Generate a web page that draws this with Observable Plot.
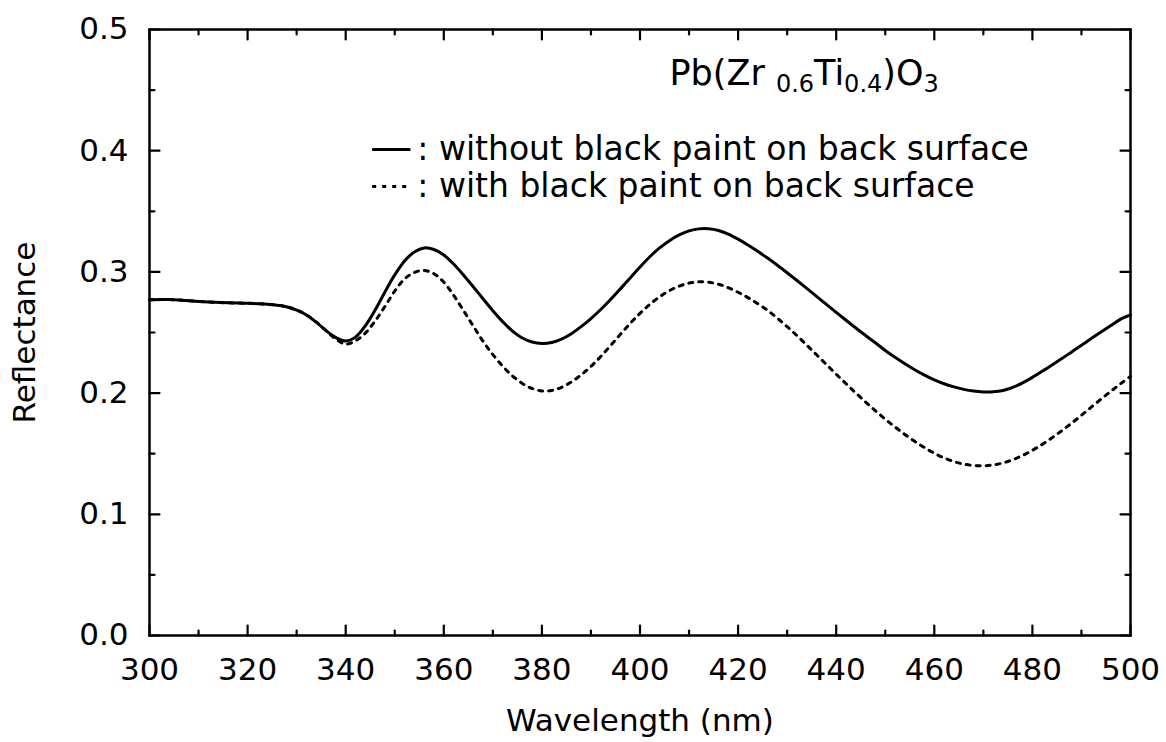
<!DOCTYPE html>
<html>
<head>
<meta charset="utf-8">
<script src="https://cdn.jsdelivr.net/npm/d3@7"></script>
<script src="https://cdn.jsdelivr.net/npm/@observablehq/plot@0.6"></script>
<style>
  html, body { margin: 0; padding: 0; background: white; }
</style>
</head>
<body>
<div id="chart"></div>
<script>
// ---- data ----
const wavelengthSolid = [300,304,308,312,316,320,324,327,330,332,334,336,338,340,342,344,346,348,350,352,354,356,358,360,362,364,366,368,370,372,374,376,378,380,382,384,386,388,390,392,394,396,398,400,402,404,406,408,410,412,414,416,418,420,422,424,426,428,430,432,434,436,438,440,442,444,446,448,450,452,454,456,458,460,462,464,466,468,470,472,474,476,478,480,482,484,486,488,490,492,494,496,498,500];
const reflectanceSolid = [0.277,0.2772,0.2762,0.2752,0.2745,0.2741,0.2733,0.272,0.2685,0.2645,0.2585,0.2515,0.2458,0.2430,0.2462,0.2555,0.2685,0.2835,0.2975,0.309,0.3165,0.3198,0.3185,0.314,0.3065,0.2975,0.2878,0.2778,0.268,0.259,0.2512,0.2455,0.2422,0.241,0.2418,0.2445,0.249,0.2548,0.2615,0.269,0.2772,0.286,0.295,0.304,0.3125,0.3198,0.3258,0.3305,0.3338,0.3355,0.3356,0.3342,0.3312,0.327,0.3222,0.317,0.3114,0.3055,0.2993,0.2929,0.2864,0.2798,0.2732,0.2666,0.2601,0.2537,0.2475,0.2415,0.2352,0.2295,0.2242,0.2193,0.2148,0.2109,0.2077,0.2051,0.2031,0.2017,0.201,0.2011,0.2022,0.2048,0.2085,0.213,0.218,0.2232,0.2285,0.234,0.2395,0.245,0.2505,0.2558,0.261,0.2645];

const wavelengthDotted = [300,304,308,312,316,320,324,327,330,332,334,336,338,340,342,344,346,348,350,352,354,356,358,360,362,364,366,368,370,372,374,376,378,380,382,384,386,388,390,392,394,396,398,400,402,404,406,408,410,412,414,416,418,420,422,424,426,428,430,432,434,436,438,440,442,444,446,448,450,452,454,456,458,460,462,464,466,468,470,472,474,476,478,480,482,484,486,488,490,492,494,496,498,500];
const reflectanceDotted = [0.277,0.2772,0.2762,0.2752,0.2745,0.2741,0.2733,0.272,0.2685,0.2645,0.2585,0.2515,0.2445,0.2405,0.2432,0.2495,0.2595,0.2715,0.2842,0.2942,0.2995,0.3012,0.2985,0.2915,0.2808,0.2682,0.2553,0.2428,0.2318,0.2222,0.2142,0.208,0.2038,0.2018,0.2022,0.2048,0.2092,0.215,0.222,0.2302,0.2392,0.2485,0.2575,0.2658,0.2732,0.2795,0.2845,0.2883,0.2908,0.2918,0.2915,0.2898,0.287,0.2832,0.2788,0.2738,0.2683,0.2618,0.2548,0.2474,0.2396,0.2316,0.2236,0.2156,0.2078,0.2001,0.1926,0.1854,0.1785,0.172,0.1659,0.1602,0.155,0.1504,0.1465,0.1435,0.1414,0.1403,0.1400,0.1407,0.1424,0.145,0.1486,0.1528,0.1577,0.1631,0.169,0.1752,0.1817,0.1884,0.195,0.2015,0.2078,0.2138];

const xTickLabels = [300,320,340,360,380,400,420,440,460,480,500];
const xMinorTicks = [310,330,350,370,390,410,430,450,470,490];
const yTickLabels = [0.0,0.1,0.2,0.3,0.4,0.5];
const yMinorTicks = [0.05,0.15,0.25,0.35,0.45];

const xLabel = "Wavelength (nm)";
const yLabel = "Reflectance";
const legendTitle = "Pb(Zr 0.6Ti0.4)O3";
const legendLabels = [": without black paint on back surface", ": with black paint on back surface"];
// legend anchor positions in data units
const legendTitleAt = {x: 406.0, y: 0.4546};
const legendRowY = [0.401, 0.3705];
const legendSwatchX = [345.5, 353.3];
const legendTextX = 354.6;

// ---- build ----
const solid = wavelengthSolid.map((x, i) => ({x, y: reflectanceSolid[i]}));
const dotted = wavelengthDotted.map((x, i) => ({x, y: reflectanceDotted[i]}));

const tickShape = {draw(context, l) { context.moveTo(0, 0); context.lineTo(0, -l); }};
const tickOpts = {anchor: "start", shape: tickShape, stroke: "black", strokeWidth: 2.2};
const DOT = "4,6";

const chart = Plot.plot({
  width: 1166,
  height: 742,
  marginLeft: 149,
  marginRight: 36,
  marginTop: 29,
  marginBottom: 107,
  x: {domain: [300, 500]},
  y: {domain: [0, 0.5]},
  style: {fontFamily: "'DejaVu Sans', sans-serif", fontSize: "31px", background: "white", color: "black"},
  marks: [
    Plot.axisX({ticks: xTickLabels, tickSize: 0, tickPadding: 22, label: null, fontSize: 31, tickFormat: d => String(d)}),
    Plot.axisY({ticks: yTickLabels, tickSize: 0, tickPadding: 21, label: null, fontSize: 31, tickFormat: d => d.toFixed(1)}),
    // inward ticks on four sides
    Plot.vector(xTickLabels, {...tickOpts, x: d => d, y: () => 0, rotate: 0, length: 10}),
    Plot.vector(xMinorTicks, {...tickOpts, x: d => d, y: () => 0, rotate: 0, length: 5}),
    Plot.vector(xTickLabels, {...tickOpts, x: d => d, y: () => 0.5, rotate: 180, length: 10}),
    Plot.vector(xMinorTicks, {...tickOpts, x: d => d, y: () => 0.5, rotate: 180, length: 5}),
    Plot.vector(yTickLabels, {...tickOpts, y: d => d, x: () => 300, rotate: 90, length: 10}),
    Plot.vector(yMinorTicks, {...tickOpts, y: d => d, x: () => 300, rotate: 90, length: 5}),
    Plot.vector(yTickLabels, {...tickOpts, y: d => d, x: () => 500, rotate: -90, length: 10}),
    Plot.vector(yMinorTicks, {...tickOpts, y: d => d, x: () => 500, rotate: -90, length: 5}),
    Plot.frame({stroke: "black", strokeWidth: 2.5}),
    // curves
    Plot.line(solid, {x: "x", y: "y", stroke: "black", strokeWidth: 3, curve: "catmull-rom"}),
    Plot.line(dotted, {x: "x", y: "y", stroke: "black", strokeWidth: 3, strokeDasharray: DOT, curve: "catmull-rom"}),
    // axis titles
    Plot.text([xLabel], {text: d => d, frameAnchor: "bottom", textAnchor: "middle", lineAnchor: "middle", dy: 86, fontSize: 31}),
    Plot.text([yLabel], {text: d => d, frameAnchor: "left", textAnchor: "middle", lineAnchor: "middle", dx: -124, rotate: -90, fontSize: 31}),
    // legend
    Plot.text([legendTitle], {text: d => d, x: () => legendTitleAt.x, y: () => legendTitleAt.y, textAnchor: "start", lineAnchor: "bottom", fontSize: 35}),
    Plot.ruleY([legendRowY[0]], {y: d => d, x1: () => legendSwatchX[0], x2: () => legendSwatchX[1], stroke: "black", strokeWidth: 3}),
    Plot.ruleY([legendRowY[1]], {y: d => d, x1: () => legendSwatchX[0], x2: () => legendSwatchX[1], stroke: "black", strokeWidth: 3, strokeDasharray: DOT}),
    Plot.text(legendLabels, {text: d => d, x: () => legendTextX, y: (d, i) => legendRowY[i], textAnchor: "start", lineAnchor: "middle", fontSize: 33})
  ]
});

document.getElementById("chart").appendChild(chart);

// chemical formula subscripts
for (const t of chart.querySelectorAll("text")) {
  if (t.textContent === legendTitle) {
    const parts = [["Pb(Zr ", false], ["0.6", true], ["Ti", false], ["0.4", true], [")O", false], ["3", true]];
    while (t.firstChild) t.removeChild(t.firstChild);
    let sub = false;
    for (const [s, isSub] of parts) {
      const ts = document.createElementNS("http://www.w3.org/2000/svg", "tspan");
      ts.textContent = s;
      if (isSub && !sub) ts.setAttribute("dy", "7");
      if (!isSub && sub) ts.setAttribute("dy", "-7");
      if (isSub) ts.setAttribute("font-size", "24");
      sub = isSub;
      t.appendChild(ts);
    }
  }
}
</script>
</body>
</html>
